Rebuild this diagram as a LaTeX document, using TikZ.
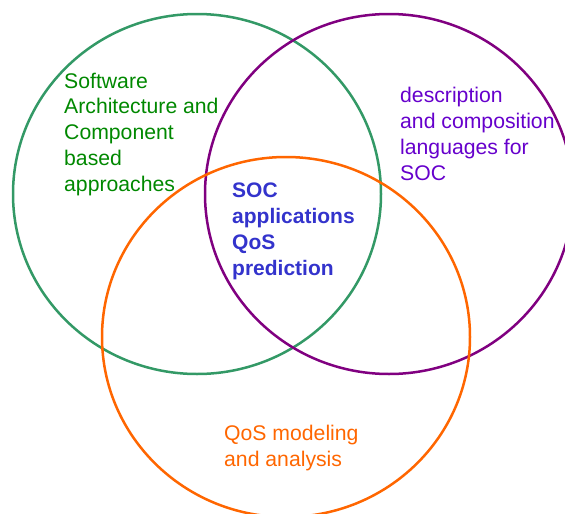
\documentclass[tikz,border=0pt]{standalone}
\usepackage{fontspec}
\setmainfont{Liberation Sans}
\definecolor{ringgreen}{RGB}{51,153,102}
\definecolor{ringpurple}{RGB}{128,0,128}
\definecolor{ringorange}{RGB}{255,102,0}
\definecolor{txtgreen}{RGB}{0,136,0}
\definecolor{txtviolet}{RGB}{102,0,204}
\definecolor{txtblue}{RGB}{51,51,204}
\tikzset{
  ring/.style={line width=2.5pt},
  label/.style={inner sep=0pt, anchor=base west, align=left,
    font=\fontsize{21.2}{25.7}\selectfont},
}
\begin{document}
\begin{tikzpicture}[x=1pt,y=-1pt]
  \useasboundingbox (0,0) rectangle (565,514);
  % three overlapping areas
  \draw[ring, ringgreen]  (197,194) ellipse [x radius=184, y radius=180];
  \draw[ring, ringpurple] (389,194) ellipse [x radius=184, y radius=180];
  \draw[ring, ringorange] (286,337) ellipse [x radius=184, y radius=180];
  % area captions (placed by the baseline of their last line)
  \node[label, txtgreen] (sa) at (64,191)
    {Software\\Architecture and\\Component\\based\\approaches};
  \node[label, txtviolet] (dl) at (400,180)
    {description\\and composition\\languages for\\SOC};
  \node[label, txtblue, font=\fontsize{21}{25.7}\selectfont\bfseries] (soc) at (232,275)
    {SOC\\applications\\QoS\\prediction};
  \node[label, ringorange] (qos) at (224,466)
    {QoS modeling\\and analysis};
\end{tikzpicture}
\end{document}
